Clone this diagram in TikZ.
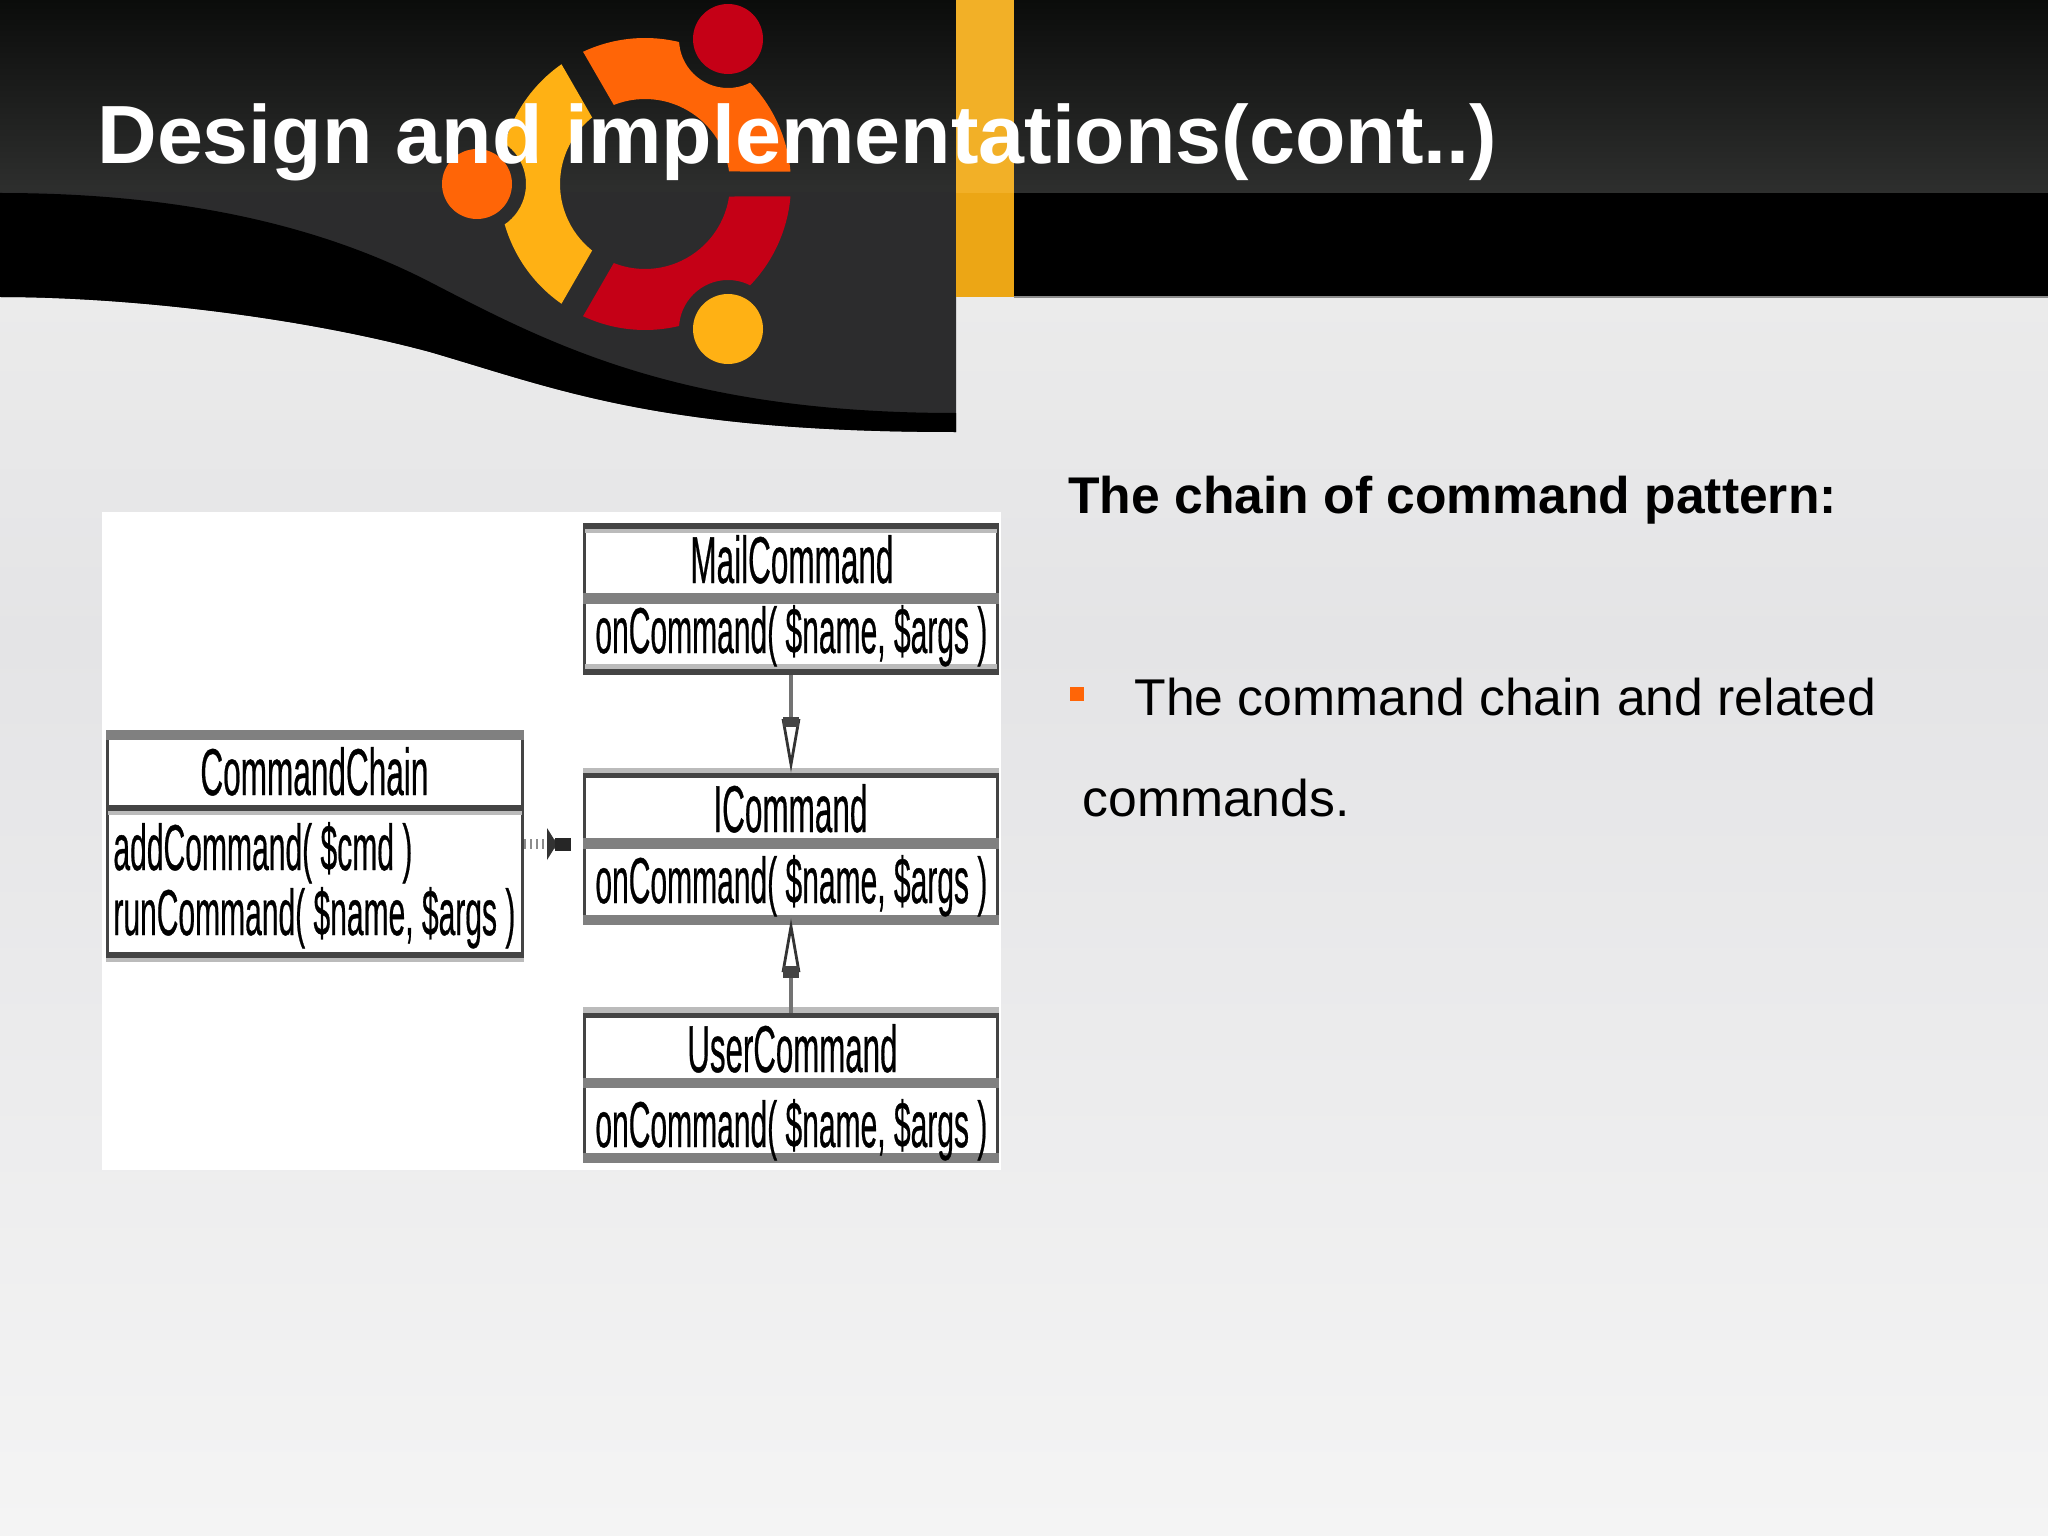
\documentclass[tikz,border=0pt]{standalone}
\usepackage{fontspec}
\usepackage{graphicx}
\setmainfont{Liberation Sans}
\newfontfamily\umlfont[FakeBold=0.7]{Liberation Sans}
\usetikzlibrary{arrows.meta,calc}
\definecolor{logoR}{HTML}{C50016}
\definecolor{logoO}{HTML}{FF6507}
\definecolor{logoY}{HTML}{FFB114}
\definecolor{panelDark}{HTML}{2C2C2D}
\definecolor{topDark}{HTML}{0B0C0B}
\definecolor{topLight}{HTML}{2E2F2E}
\definecolor{bdDark}{HTML}{444444}
\definecolor{bdMid}{HTML}{808080}
\definecolor{bdLight}{HTML}{BBBBBB}
\definecolor{bandUp}{HTML}{F2B027}
\definecolor{bandLow}{HTML}{ECA615}
\definecolor{bgA}{HTML}{EBEBEB}
\definecolor{bgB}{HTML}{E4E4E6}
\definecolor{bgC}{HTML}{F4F4F4}
\newcommand\umlfit[2]{\resizebox{#1}{24pt}{\umlfont #2}}
\tikzset{
  umlbox/.style 2 args={draw=bdDark,line width=1.4pt,fill=white,inner sep=0pt,minimum width=#1,minimum height=#2},
  umltext/.style={anchor=base west,inner sep=0pt,text=black},
  title/.style={anchor=base west,inner sep=0pt,text=white,font=\bfseries\fontsize{41.3}{41.3}\selectfont},
  body/.style={anchor=base west,inner sep=0pt,text=black,font=\fontsize{25.85}{25.85}\selectfont},
  bodybold/.style={anchor=base west,inner sep=0pt,text=black,font=\bfseries\fontsize{25.8}{25.8}\selectfont},
  inherit/.style={draw=bdMid!90!black,line width=2pt,-{Triangle[open,length=27pt,width=9pt,line width=1.4pt,color=black!80,fill=white]}},
  depend/.style={draw=black!45,line width=5pt,dash pattern=on 1pt off 2pt,-{Triangle[length=5pt,width=16pt,line width=0pt,color=black!80,sep=-1pt]Rectangle[length=8pt,width=6.5pt,line width=0pt,color=black!85]},shorten >=6pt}
}
\newcommand\sector[2]{%
  \fill[#1,rotate=#2] (4.9:146) arc[start angle=4.9,end angle=115.1,radius=73pt]
    -- (111.54:85) arc[start angle=111.54,end angle=8.46,radius=42.5pt] -- cycle;}
\begin{document}
\begin{tikzpicture}[x=0.5pt,y=-0.5pt]
\useasboundingbox (0,0) rectangle (2048,1535);
% background
\shade[top color=bgA,bottom color=bgB] (0,297) rectangle (2048,640);
\shade[top color=bgB,bottom color=bgC] (0,640) rectangle (2048,1535);
% header
\shade[top color=topDark,bottom color=topLight] (0,0) rectangle (2048,193);
\fill[black] (1014,193) rectangle (2048,297);
\fill[black!45] (1014,296.5) rectangle (2048,298);
% left panel
\fill[panelDark] (0,192) -- (956,192) -- (956,432)
  .. controls (660,432) and (560,390) .. (430,352)
  .. controls (300,317) and (130,297) .. (0,297) -- cycle;
\fill[black] (0,193) .. controls (150,193) and (300,215) .. (430,282)
  .. controls (550,344) and (680,413) .. (956,413) -- (956,432)
  .. controls (660,432) and (560,390) .. (430,352)
  .. controls (300,317) and (130,297) .. (0,297) -- cycle;
% orange band
\fill[bandUp] (956,0) rectangle (1014,193);
\fill[bandLow] (956,193) rectangle (1014,297);
% logo
\begin{scope}[shift={(645,184)},x=0.5pt,y=0.5pt]
  \begin{scope}[even odd rule]
    \clip (-300,-300) rectangle (300,300) (83,145) circle[radius=24.5pt];
    \clip (-300,-300) rectangle (300,300) (-168,0) circle[radius=24.5pt];
    \clip (-300,-300) rectangle (300,300) (83,-145) circle[radius=24.5pt];
    \sector{logoO}{0}
    \sector{logoY}{120}
    \sector{logoR}{240}
  \end{scope}
  \fill[logoR] (83,145) circle[radius=17.5pt];
  \fill[logoO] (-168,0) circle[radius=17.5pt];
  \fill[logoY] (83,-145) circle[radius=17.5pt];
\end{scope}
% title
\node[title] (ttl) at (97,164) {Design and implementations(cont..)};
% right text
\node[bodybold] (hd) at (1068,513) {The chain of command pattern:};
\fill[logoO] (1070,687) rectangle (1084,701);
\node[body] (l1) at (1134,715) {The command chain and related};
\node[body] (l2) at (1082,816) {commands.};
% picture
\fill[white] (102,512) rectangle (1001,1170);
% boxes
\node[umlbox={207.6pt}{112.6pt}] (chain) at (315,844) {};
\node[umlbox={206.6pt}{74.6pt}] (mail) at (791,599) {};
\node[umlbox={206.6pt}{74.6pt}] (icmd) at (791,849) {};
\node[umlbox={206.6pt}{73.6pt}] (user) at (791,1088) {};
% chain bands
\fill[bdMid] (106,730) rectangle (524,740);
\fill[bdDark] (106,805) rectangle (524,811);
\fill[bdLight] (108,811) rectangle (522,815);
\fill[bdDark] (106,952) rectangle (524,958);
\fill[bdLight] (106,958) rectangle (524,962);
% mail bands
\fill[bdDark] (583,523) rectangle (999,529);
\fill[bdLight] (585,529) rectangle (997,533);
\fill[bdMid] (583,593) rectangle (999,604);
\fill[bdLight] (585,664) rectangle (997,669);
\fill[bdDark] (583,669) rectangle (999,675);
% icmd bands
\fill[bdLight] (583,768) rectangle (999,773);
\fill[bdDark] (583,773) rectangle (999,778);
\fill[bdMid] (583,838) rectangle (999,849);
\fill[bdMid] (583,915) rectangle (999,925);
% user bands
\fill[bdLight] (583,1007) rectangle (999,1013);
\fill[bdDark] (583,1013) rectangle (999,1018);
\fill[bdMid] (583,1078) rectangle (999,1088);
\fill[bdMid] (583,1153) rectangle (999,1163);
% texts
\node[umltext] (t1) at (200,795) {\umlfit{114pt}{CommandChain}};
\node[umltext] (t2) at (113,870) {\umlfit{149.5pt}{addCommand( \$cmd )}};
\node[umltext] (t3) at (113,935) {\umlfit{201pt}{runCommand( \$name, \$args )}};
\node[umltext] (t4) at (690,583) {\umlfit{101.5pt}{MailCommand}};
\node[umltext] (t5) at (595,653) {\umlfit{196pt}{onCommand( \$name, \$args )}};
\node[umltext] (t6) at (713,832) {\umlfit{77pt}{ICommand}};
\node[umltext] (t7) at (595,903) {\umlfit{196pt}{onCommand( \$name, \$args )}};
\node[umltext] (t8) at (687,1072) {\umlfit{105pt}{UserCommand}};
\node[umltext] (t9) at (595,1147) {\umlfit{196pt}{onCommand( \$name, \$args )}};
% connectors
\draw[inherit] (mail.south) -- (icmd.north);
\draw[inherit,shorten >=-3.5pt] (user.north) -- (icmd.south);
\draw[depend] (chain.east) -- (chain.east -| icmd.west);
\fill[bdDark] (783,717) rectangle (799,727);
\fill[bdDark] (783,966) rectangle (799,978);
\end{tikzpicture}
\end{document}
